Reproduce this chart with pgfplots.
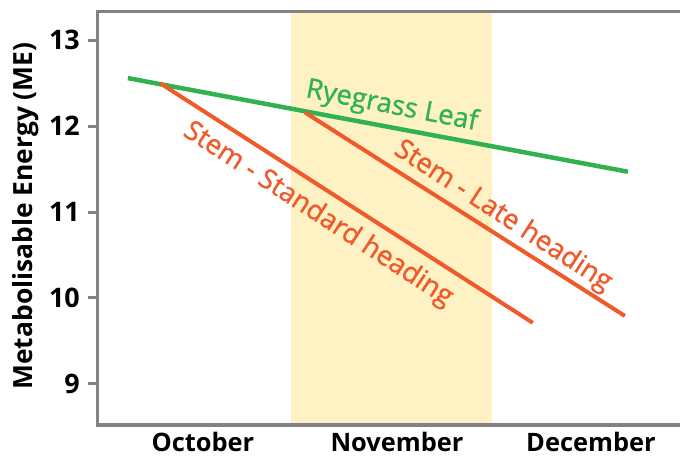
\documentclass[border=0pt]{standalone}
\usepackage{pgfplots}
\pgfplotsset{compat=1.18}
\usepackage{fontspec}
\setmainfont{Open Sans}
\newfontfamily\labelfont{Open Sans}[FakeBold=1]
\definecolor{leafgreen}{RGB}{48,178,80}
\definecolor{stemorange}{RGB}{240,90,42}
\definecolor{bandyellow}{RGB}{254,241,196}
\definecolor{axisgray}{RGB}{130,130,130}
\begin{document}
\begin{tikzpicture}
\begin{axis}[
  name=ax,
  scale only axis,
  width=582bp, height=413bp,
  xmin=-0.541, xmax=2.459,
  ymin=8.52, ymax=13.33,
  clip=false,
  axis line style={draw=none},
  xtick={0,1,2},
  xticklabels={October,November,December},
  xtick style={draw=none},
  ytick={9,10,11,12,13},
  ytick pos=left,
  tick align=outside,
  major tick length=10bp,
  ytick style={axisgray, line width=3bp},
  /pgf/number format/assume math mode=true,
  xticklabel style={font=\fontsize{25.5}{30}\selectfont\bfseries, anchor=base, yshift=-17bp},
  yticklabel style={font=\fontsize{27}{32}\selectfont\bfseries, anchor=east, inner sep=0pt, xshift=-8bp},
]
\addplot[fill=bandyellow, draw=none] coordinates {(0.454,8.52) (1.49,8.52) (1.49,13.33) (0.454,13.33)} -- cycle;
\addplot[leafgreen, line width=4.5bp] coordinates {(-0.387,12.56) (2.19,11.47)};
\addplot[stemorange, line width=4bp] coordinates {(-0.22,12.50) (1.70,9.71)};
\addplot[stemorange, line width=4bp] coordinates {(0.526,12.16) (2.175,9.79)};
\draw[axisgray, line width=3bp] (rel axis cs:1,1) -- (rel axis cs:0,1) -- (rel axis cs:0,0) -- (rel axis cs:1,0);
\node[rotate=-11, text=leafgreen, font=\fontsize{27.5}{32}\labelfont] at (axis cs:0.974,12.23) {Ryegrass Leaf};
\node[rotate=-33, text=stemorange, font=\fontsize{27.5}{32}\labelfont] at (axis cs:0.593,10.97) {Stem - Standard heading};
\node[rotate=-33, text=stemorange, font=\fontsize{27.5}{32}\labelfont] at (axis cs:1.546,10.95) {Stem - Late heading};
\node[rotate=90, font=\fontsize{26.5}{30}\selectfont\bfseries] at ([xshift=-72bp]rel axis cs:0,0.506) {Metabolisable Energy (ME)};
\end{axis}
\pgfresetboundingbox
\useasboundingbox ([shift={(-98bp,-37bp)}]ax.south west) rectangle ([shift={(0bp,12bp)}]ax.north east);
\end{tikzpicture}
\end{document}
